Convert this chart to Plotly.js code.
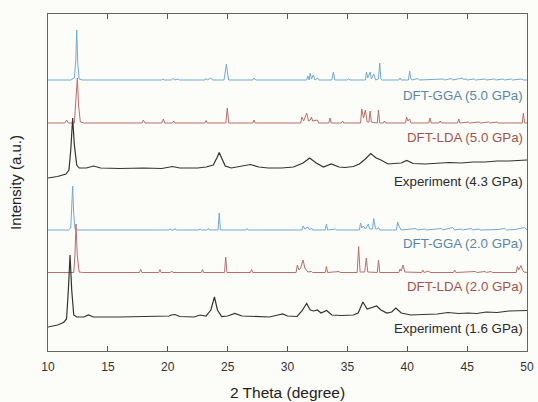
<!DOCTYPE html>
<html>
<head>
<meta charset="utf-8">
<script src="https://cdn.plot.ly/plotly-3.0.1.min.js"></script>
<style>html,body{margin:0;padding:0;background:#fcfcf8;}#chart{width:538px;height:402px;}</style>
</head>
<body>
<div id="chart"></div>
<script>
// 2-theta positions (degree) and relative intensities (a.u.) for each pattern
const gga50_x = [10,11.9,12.2,12.32,12.4,12.48,12.6,12.9,19.5,19.6,19.7,20.3,20.45,20.6,20.85,21.0,23.1,23.2,23.3,23.6,23.75,24.7,24.8,24.9,25.0,25.1,27.1,27.2,27.35,31.6,31.7,31.8,31.9,32.0,32.15,32.3,32.5,32.6,33.7,33.83,33.95,35.0,35.1,35.2,36.5,36.6,36.7,36.9,37.0,37.2,37.35,37.6,37.7,37.8,37.9,39.3,39.4,39.5,40.1,40.2,40.3,40.4,40.9,41.0,43.0,43.1,43.7,43.8,44.6,44.7,44.9,45.0,45.6,45.7,46.5,46.6,47.3,47.4,48.0,48.1,48.7,48.8,49.55,49.7,50];
const gga50_y = [0,0,2,20,50,18,1,0,0,1,0,0,1.5,0,1,0,0,1.5,0,2,0,0,8,16,6,0,0,2,0,0,4,0,7,1,5,0,2,0,0,8,0,0,1.5,0,0,8,2,8,1,6,0,1,17,1,0,0,2,0,0,9,1,0,1.5,0,1,0,1.5,0,2,0.5,1,0,1,0,1,0,1,0,1,0,1,0,1,0,0];

const lda50_x = [10,11.4,11.56,11.7,12.2,12.35,12.45,12.55,12.7,13,17.85,17.96,18.1,19.5,19.63,19.75,20.4,20.5,20.6,23.1,23.2,23.3,24.85,24.97,25.09,27.1,27.2,27.3,31.1,31.2,31.35,31.6,31.75,31.9,32.0,32.1,32.5,32.6,33.45,33.55,33.65,34.5,34.6,34.7,36.1,36.2,36.35,36.5,36.65,36.8,36.9,37.0,37.5,37.6,37.7,38.0,38.1,38.2,39.85,39.95,40.05,40.2,40.3,41.8,41.9,42.0,42.65,42.75,42.85,44.2,44.3,44.4,45.1,45.2,46.0,46.1,46.8,46.9,47.5,47.6,49.6,49.7,49.8,50];
const lda50_y = [0,0,3,0,0,23,45,18,1,0,0,3,0,0,4,0,0,2,0,0,2.5,0,0,15,0,0,3,0,0,6,2,10,2,3,6,2,3,0,0,5,0,0,2,0,0,14,5,13,1,1,12,1,0,13,0,0,2,0,0,6,2,4,0,0,5,0,0,2,0,0,4,0,1,0,1,0,1,0,1,0,0,10,0,0];

const exp43_x = [10,10.8,11.5,11.75,11.9,12.06,12.2,12.4,12.6,13.2,13.8,14.4,16,18,19.5,20.4,21,22.5,23.2,23.8,24.1,24.3,24.5,24.8,25.3,26.2,26.9,27.6,28.4,29.5,30.5,31.3,31.85,32.4,33.0,33.65,34.3,34.8,35.5,36.0,36.5,36.95,37.4,37.8,38.4,38.9,39.5,39.95,40.5,41.5,42.5,43.5,44.5,45.5,46.5,47.5,48.5,49.5,50];
const exp43_y = [-10,-8.5,-6,-2,18,50,23,3,0,0,2,0,-0.5,0,-0.5,1.5,0,0,1,3,10,15.5,10,2,0,2,3.5,1,0,0,1,5,10,5,1,4,1,0.5,1.5,4,9,14.5,10,8,4,4.5,5,7.5,4.5,4,5,5.5,5,6,6,7,7,7.5,8];

const gga20_x = [10,11.7,11.9,11.98,12.06,12.14,12.25,12.5,20.1,20.2,20.3,20.5,20.6,20.7,22.6,22.7,22.8,23.3,23.4,23.5,24.2,24.3,24.4,26.5,26.6,26.7,31.2,31.3,31.45,31.7,31.85,32.0,32.1,33.15,33.25,33.35,34.0,34.1,36.0,36.1,36.2,36.35,36.5,36.75,36.85,37.1,37.2,37.35,37.5,37.6,37.7,39.1,39.2,39.3,39.4,39.5,40.75,40.85,41.5,41.6,42.85,42.95,43.8,43.95,44.5,44.6,45.35,45.45,46.0,46.1,47.6,48.15,48.3,49.0,49.8,49.95,50];
const gga20_y = [0,0,2,20,44,18,1,0,0,1,0,0,1.5,0,0,1,0,0,1.5,0,0,17,0,0,1.5,0,0,4,1,3,0,2,0,0,6,0,1,0,0,7,2,4,1,6,1,1,11.5,1,1,2.5,0,0,8,4,1,0,1.5,0,1,0,1.5,0,2.5,0,1,0,1.5,0,1,0,0.5,1.5,0,0.5,2.5,0,0];

const lda20_x = [10,12.15,12.25,12.34,12.44,12.6,12.9,17.64,17.74,17.84,19.25,19.35,19.45,20.23,20.33,20.43,22.8,22.9,23.0,24.74,24.84,24.94,26.9,27.0,27.1,30.72,30.82,30.95,31.1,31.3,31.45,31.6,31.7,32.0,32.1,33.15,33.25,33.35,34.3,34.4,35.82,35.94,36.06,36.45,36.58,36.7,37.5,37.6,37.7,39.3,39.4,39.5,39.65,39.8,41.2,41.3,41.4,41.8,41.9,43.86,43.96,44.06,45.7,45.8,46.5,46.6,47.0,47.1,49.1,49.2,49.3,49.5,49.62,49.75,50];
const lda20_y = [0,0,17.5,48.5,17.5,0.5,0,0,3,0,0,3,0,0,1.5,0,0,3,0,0,15.5,0,0,3,0,0,7.5,2.5,4.5,12.5,4.5,2.5,0.5,1,0,0,6,0,1,0,0,26,0.5,0.5,14.5,0.5,0,12.5,0,0,3.5,1.5,7.5,0.5,0,2.5,0,1.5,0,0,2.5,0,1,0,1,0,1,0,0,6,2.5,7,2.5,0.5,0];

const exp16_x = [10,10.8,11.3,11.55,11.7,11.84,11.98,12.15,12.4,13.0,13.37,13.8,16,18,20.1,20.3,20.6,21,22.2,22.7,23.2,23.6,23.9,24.15,24.5,25.0,25.6,26.2,27,28.5,29.2,29.6,30.0,30.8,31.2,31.6,31.9,32.2,32.5,32.8,33.27,33.7,34.5,35.5,35.9,36.3,36.65,37.0,37.45,37.8,38.3,38.7,39.05,39.5,40.3,41.3,42.5,43.4,44.3,45.1,45.8,46.6,47.5,48.5,49.3,50];
const exp16_y = [-10,-8,-5.5,-2,27,62,27,2,0,0,2,0,0,0.5,1,2,2.5,0.5,0,2,1,7,20,7,0.5,1,3.5,1,0.5,0,2,3,1,0.5,6,13.5,7,6,7,4,6.5,2,1.5,2,4,15,8,9,11,7,4,5,9,4,2,2.5,3,4.5,3.5,4,3.5,5,4.5,6,6.5,6.5];

const seriesNames = ['DFT-GGA (5.0 GPa)','DFT-LDA (5.0 GPa)','Experiment (4.3 GPa)','DFT-GGA (2.0 GPa)','DFT-LDA (2.0 GPa)','Experiment (1.6 GPa)'];
const xTicks = [10,15,20,25,30,35,40,45,50];

// stacking offsets and styles (layout, not data)
const offsets = [271, 228, 183, 121, 78.5, 34];
const labelOffsets = [-15, -14, -13, -13, -14, -11];
const lineColors = ['#74aad0','#b8706d','#333333','#74aad0','#b8706d','#333333'];
const textColors = ['#5b88a6','#a5524f','#2b2b2b','#5b88a6','#a5524f','#2b2b2b'];

const xs = [gga50_x, lda50_x, exp43_x, gga20_x, lda20_x, exp16_x];
const ys = [gga50_y, lda50_y, exp43_y, gga20_y, lda20_y, exp16_y];

const traces = xs.map((x, i) => ({
  x: x,
  y: ys[i].map(v => v + offsets[i]),
  type: 'scatter', mode: 'lines', name: seriesNames[i],
  line: {color: lineColors[i], width: i % 3 === 2 ? 1.2 : 1},
  hoverinfo: 'skip', showlegend: false
}));

const annotations = seriesNames.map((t, i) => ({
  text: t, x: 50, y: offsets[i] + labelOffsets[i], xref: 'x', yref: 'y',
  xanchor: 'right', yanchor: 'middle', xshift: -2, showarrow: false,
  font: {family: 'Liberation Sans, Arial, sans-serif', size: 13.3, color: textColors[i]}
}));

const layout = {
  width: 538, height: 402,
  margin: {l: 48, r: 11, t: 14, b: 51},
  paper_bgcolor: '#fcfcf8', plot_bgcolor: '#fcfcf8',
  font: {family: 'Liberation Sans, Arial, sans-serif', color: '#333'},
  xaxis: {
    range: [10, 50], tickvals: xTicks, ticktext: xTicks.map(String),
    ticks: 'inside', ticklen: 5, tickcolor: '#555', tickwidth: 1,
    showline: true, linecolor: '#666', linewidth: 1, mirror: 'ticks',
    showgrid: false, zeroline: false, ticklabelstandoff: 5,
    tickfont: {size: 12, color: '#333'},
    title: {text: '2 Theta (degree)', font: {size: 15.5, color: '#222'}, standoff: 13}
  },
  yaxis: {
    range: [0, 337], showticklabels: false, ticks: '',
    showline: true, linecolor: '#666', linewidth: 1, mirror: true,
    showgrid: false, zeroline: false,
    title: {text: 'Intensity (a.u.)', font: {size: 15, color: '#222'}, standoff: 21}
  },
  annotations: annotations
};

Plotly.newPlot('chart', traces, layout, {staticPlot: true, displayModeBar: false});
</script>
</body>
</html>
